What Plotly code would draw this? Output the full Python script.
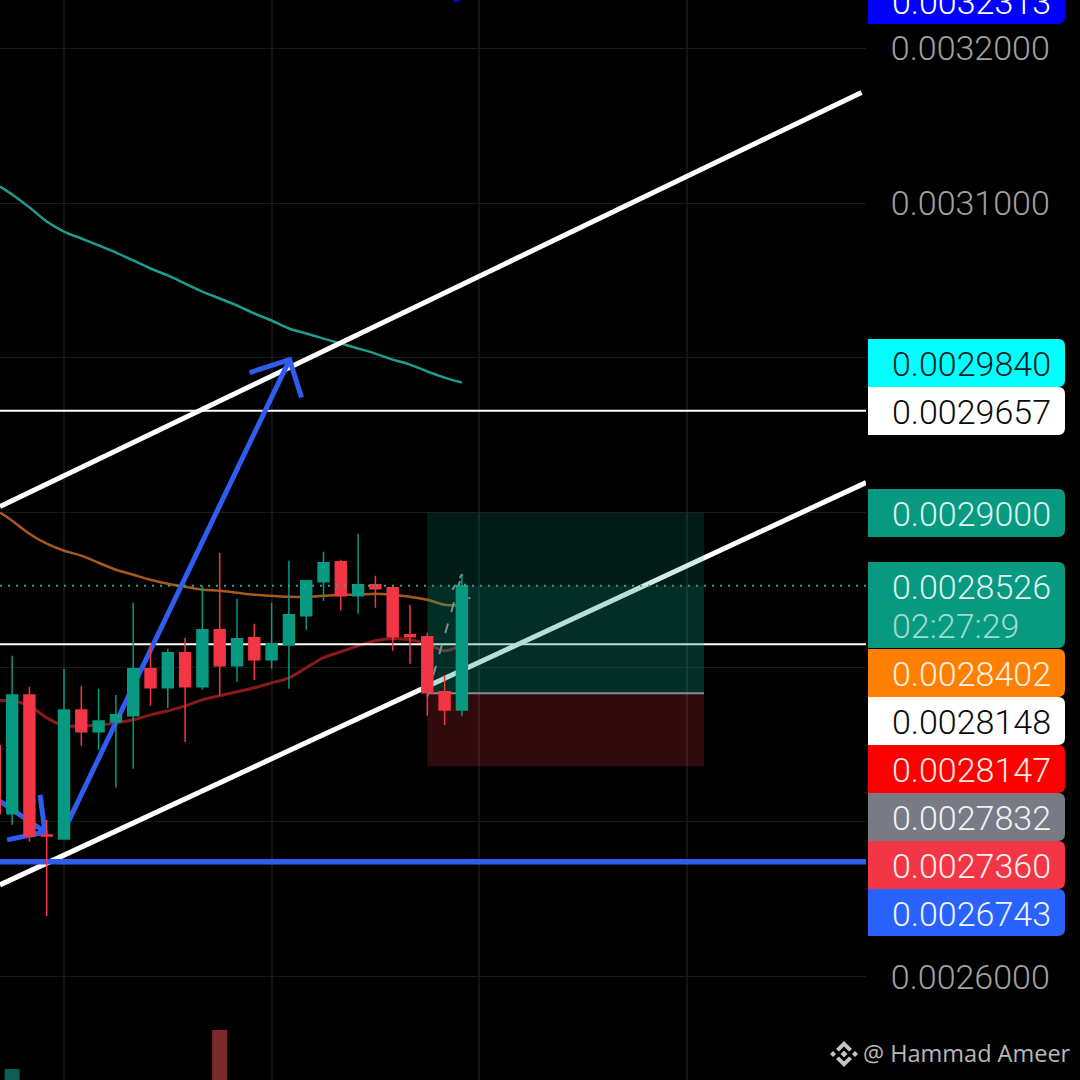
import plotly.graph_objects as go

# candle index 0 sits on the first visible vertical grid line
CANDLE_X = list(range(-4, 24))
OPEN = [0.0027492, 0.0027052, 0.0027821, 0.0026916, 0.0026890, 0.0027724, 0.0027582, 0.0027647,
        0.0027686, 0.0027990, 0.0027867, 0.0028093, 0.0027873, 0.0028242, 0.0028009, 0.0028190,
        0.0028048, 0.0028145, 0.0028332, 0.0028552, 0.0028682, 0.0028462, 0.0028533, 0.0028514,
        0.0028210, 0.0028197, 0.0027841, 0.0027724]
HIGH = [0.0027530, 0.0028074, 0.0027873, 0.0027013, 0.0027990, 0.0027880, 0.0027860, 0.0027821,
        0.0028417, 0.0028145, 0.0028119, 0.0028190, 0.0028526, 0.0028740, 0.0028442, 0.0028281,
        0.0028417, 0.0028688, 0.0028559, 0.0028746, 0.0028695, 0.0028863, 0.0028591, 0.0028533,
        0.0028404, 0.0028223, 0.0027951, 0.0028598]
LOW = [0.0027013, 0.0026981, 0.0026871, 0.0026392, 0.0026890, 0.0027492, 0.0027466, 0.0027220,
       0.0027343, 0.0027750, 0.0027737, 0.0027517, 0.0027854, 0.0027815, 0.0027906, 0.0027918,
       0.0027990, 0.0027860, 0.0028242, 0.0028429, 0.0028365, 0.0028345, 0.0028384, 0.0028106,
       0.0028022, 0.0027686, 0.0027627, 0.0027686]
CLOSE = [0.0027052, 0.0027821, 0.0026909, 0.0026909, 0.0027724, 0.0027582, 0.0027653, 0.0027692,
         0.0027990, 0.0027867, 0.0028093, 0.0027873, 0.0028242, 0.0028009, 0.0028184, 0.0028048,
         0.0028151, 0.0028339, 0.0028559, 0.0028675, 0.0028462, 0.0028533, 0.0028507, 0.0028197,
         0.0028197, 0.0027835, 0.0027724, 0.0028526]

# only two volume bars reach into the frame
VOLUME_X = [-3, 9]
VOLUME = [11, 50]
VOLUME_COLORS = ["#0f5c55", "#7a2a2c"]

EMA_X = [-3.70] + list(range(-3, 24))
EMA_TEAL = [0.0031107, 0.0031056, 0.0030972, 0.0030881, 0.0030816, 0.0030771, 0.0030726, 0.0030680,
            0.0030629, 0.0030577, 0.0030532, 0.0030480, 0.0030428, 0.0030383, 0.0030338, 0.0030286,
            0.0030241, 0.0030189, 0.0030157, 0.0030124, 0.0030092, 0.0030060, 0.0030027, 0.0029988,
            0.0029956, 0.0029911, 0.0029872, 0.0029840]
EMA_ORANGE = [0.0028999, 0.0028947, 0.0028863, 0.0028798, 0.0028753, 0.0028721, 0.0028675, 0.0028630,
              0.0028598, 0.0028565, 0.0028539, 0.0028520, 0.0028501, 0.0028494, 0.0028481, 0.0028468,
              0.0028462, 0.0028455, 0.0028455, 0.0028462, 0.0028468, 0.0028468, 0.0028475, 0.0028468,
              0.0028455, 0.0028436, 0.0028404, 0.0028402]
EMA_RED = [0.0027783, 0.0027783, 0.0027750, 0.0027673, 0.0027621, 0.0027621, 0.0027627, 0.0027640,
           0.0027660, 0.0027692, 0.0027718, 0.0027750, 0.0027789, 0.0027815, 0.0027841, 0.0027867,
           0.0027899, 0.0027931, 0.0027996, 0.0028061, 0.0028100, 0.0028138, 0.0028171, 0.0028184,
           0.0028177, 0.0028151, 0.0028106, 0.0028147]

X_LEFT, X_RIGHT = -3.70, 46.36
Y_LOW, Y_HIGH = 0.00253318, 0.00323125
TICK_VALUES = [0.0026, 0.0027, 0.0028, 0.0029, 0.0030, 0.0031, 0.0032]
# the middle labels are hidden behind the price tags in the original
TICK_LABELS = ["0.0026000", "", "", "", "", "0.0031000", "0.0032000"]
GRID_X = [0, 12, 24, 36]

# drawing tools
CHANNEL_UPPER_X = [-3.70, 46.1]
CHANNEL_UPPER_Y = [0.0029038, 0.0031715]
CHANNEL_LOWER_X = [-3.70, 46.36]
CHANNEL_LOWER_Y = [0.0026593, 0.0029193]
LEVEL_WHITE = [0.0029657, 0.0028148]
LEVEL_BLUE = 0.0026743
LAST_PRICE = 0.0028526
BIG_ARROW_X = [-0.115, 13.04]
BIG_ARROW_Y = [0.0026916, 0.0029988]
BIG_HEAD_X = [10.73, 13.04, 13.73]
BIG_HEAD_Y = [0.0029904, 0.0029988, 0.0029743]
SMALL_ARROW_X = [-3.81, -1.10]
SMALL_ARROW_Y = [0.0027142, 0.0026935]
SMALL_HEAD_X = [-1.385, -1.10, -3.29]
SMALL_HEAD_Y = [0.0027175, 0.0026935, 0.0026884]
DASH_ARROW_X = [21.0, 23.0]
DASH_ARROW_Y = [0.0027810, 0.0028600]
DASH_HEAD_X = [22.45, 23.0, 23.45]
DASH_HEAD_Y = [0.0028500, 0.0028600, 0.0028440]
TOP_MARK_X = [22.5, 22.9]
TOP_MARK_Y = [0.0032313, 0.0032313]

POS_X = [21, 37]
POS_TARGET = 0.0029
POS_ENTRY = 0.0027832
POS_STOP = 0.0027360

TAG_TEXTS = ["0.0032313", "0.0029840", "0.0029657", "0.0029000", "0.0028526", "0.0028402",
             "0.0028148", "0.0028147", "0.0027832", "0.0027360", "0.0026743"]
TAG_COLORS = ["#0000ff", "#00ffff", "#ffffff", "#089981", "#089981", "#ff8000",
              "#ffffff", "#ff0000", "#787b86", "#f23645", "#2962ff"]
TAG_INK = ["#ffffff", "#0c1f1f", "#0a0a0a", "#dff3ef", "#dff3ef", "#fff0e0",
           "#0a0a0a", "#ffe8e8", "#f2f2f2", "#fff0f0", "#f0f4ff"]
TAG_TOPS = [-24, 339, 387, 489, 562, 649, 697, 745, 793, 841, 889]
TAG_BOTTOMS = [24, 387, 435, 537, 648, 697, 745, 793, 841, 889, 936]
COUNTDOWN = "02:27:29"

PLOT_W = 866
FONT = "Roboto"


def px(x):
    return x / PLOT_W


def py(y):
    return 1 - y / 1080


def line_trace(x, y, color, width, dash="solid", xaxis="x", yaxis="y", shape="linear"):
    return go.Scatter(x=x, y=y, mode="lines", xaxis=xaxis, yaxis=yaxis, hoverinfo="skip", showlegend=False,
                      line=dict(color=color, width=width, dash=dash, shape=shape))


def box_trace(x0, x1, y0, y1, color):
    return go.Scatter(x=[x0, x1, x1, x0, x0], y=[y0, y0, y1, y1, y0], mode="none", fill="toself",
                      fillcolor=color, hoverinfo="skip", showlegend=False)


def tag_shape(top, bottom, color):
    x0, x1 = 868, 1065
    r = 7
    path = (f"M {px(x0)},{py(top)} L {px(x1 - r)},{py(top)} Q {px(x1)},{py(top)} {px(x1)},{py(top + r)} "
            f"L {px(x1)},{py(bottom - r)} Q {px(x1)},{py(bottom)} {px(x1 - r)},{py(bottom)} "
            f"L {px(x0)},{py(bottom)} Z")
    return dict(type="path", xref="paper", yref="paper", path=path, fillcolor=color, line=dict(width=0), layer="above")


def poly_shape(points, color="#c4c4c4"):
    path = "M " + " L ".join(f"{px(x)},{py(y)}" for x, y in points) + " Z"
    return dict(type="path", xref="paper", yref="paper", path=path, fillcolor=color, line=dict(width=0), layer="above")


traces = []

# Indicators and drawings sit under the position box and the candles
traces.append(line_trace(EMA_X, EMA_TEAL, "#1f9c90", 2.5, shape="spline"))
traces.append(line_trace(EMA_X, EMA_ORANGE, "#a85a1e", 2.5, shape="spline"))
traces.append(line_trace(EMA_X, EMA_RED, "#8a1a1a", 3, shape="spline"))
traces.append(line_trace(CHANNEL_UPPER_X, CHANNEL_UPPER_Y, "#ffffff", 5))
traces.append(line_trace(CHANNEL_LOWER_X, CHANNEL_LOWER_Y, "#ffffff", 5))
for level in LEVEL_WHITE:
    traces.append(line_trace([X_LEFT, X_RIGHT], [level, level], "#ffffff", 2))
traces.append(line_trace([X_LEFT, X_RIGHT], [LEVEL_BLUE, LEVEL_BLUE], "#2f5df0", 5.5))
traces.append(line_trace(BIG_ARROW_X, BIG_ARROW_Y, "#2f5df0", 5))
traces.append(line_trace(BIG_HEAD_X, BIG_HEAD_Y, "#2f5df0", 5))
traces.append(line_trace(SMALL_ARROW_X, SMALL_ARROW_Y, "#2f5df0", 5))
traces.append(line_trace(SMALL_HEAD_X, SMALL_HEAD_Y, "#2f5df0", 5))
traces.append(line_trace(TOP_MARK_X, TOP_MARK_Y, "#0000ff", 3))

# Long position box
traces.append(box_trace(POS_X[0], POS_X[1], POS_ENTRY, POS_TARGET, "rgba(8,153,129,0.19)"))
traces.append(box_trace(POS_X[0], POS_X[1], POS_ENTRY, LAST_PRICE, "rgba(8,153,129,0.14)"))
traces.append(box_trace(POS_X[0], POS_X[1], POS_STOP, POS_ENTRY, "rgba(242,54,69,0.2)"))
traces.append(line_trace(POS_X, [POS_ENTRY, POS_ENTRY], "#8a8a8e", 2))
traces.append(line_trace(DASH_ARROW_X, DASH_ARROW_Y, "#7f8f8c", 2, dash="10px,12px"))
traces.append(line_trace(DASH_HEAD_X, DASH_HEAD_Y, "#7f8f8c", 2, dash="6px,8px"))

traces.append(go.Bar(x=VOLUME_X, y=VOLUME, yaxis="y3", width=0.87, marker=dict(color=VOLUME_COLORS, line=dict(width=0)),
                     hoverinfo="skip", showlegend=False))

traces.append(go.Candlestick(
    x=CANDLE_X, open=OPEN, high=HIGH, low=LOW, close=CLOSE,
    xaxis="x2", yaxis="y2", whiskerwidth=0, showlegend=False,
    increasing=dict(line=dict(color="#089981", width=1.5), fillcolor="#089981"),
    decreasing=dict(line=dict(color="#f23645", width=1.5), fillcolor="#f23645"),
))
traces.append(line_trace([X_LEFT, X_RIGHT], [LAST_PRICE, LAST_PRICE], "#35a08f", 2, dash="2px,6px", xaxis="x2", yaxis="y2"))

shapes = [tag_shape(t, b, c) for t, b, c in zip(TAG_TOPS, TAG_BOTTOMS, TAG_COLORS)]

# Binance mark next to the watermark
cx, cy = 844, 1054
for dx, dy, s in [(0, 0, 3.5), (-11, 0, 3), (11, 0, 3)]:
    shapes.append(poly_shape([(cx + dx - s, cy + dy), (cx + dx, cy + dy - s), (cx + dx + s, cy + dy), (cx + dx, cy + dy + s)]))
shapes.append(poly_shape([(cx - 8, cy - 5), (cx, cy - 13), (cx + 8, cy - 5), (cx + 5, cy - 2.5), (cx, cy - 7.5), (cx - 5, cy - 2.5)]))
shapes.append(poly_shape([(cx - 8, cy + 5), (cx, cy + 13), (cx + 8, cy + 5), (cx + 5, cy + 2.5), (cx, cy + 7.5), (cx - 5, cy + 2.5)]))

annotations = []
for text, top, bottom, ink in zip(TAG_TEXTS, TAG_TOPS, TAG_BOTTOMS, TAG_INK):
    # the top tag is cut by the window, its text sits a little lower
    centre = 2 if top < 0 else top + 25
    annotations.append(dict(xref="paper", yref="paper", x=px(890), y=py(centre), xanchor="left", yanchor="middle",
                            text=text, showarrow=False, font=dict(family=FONT, size=34, color=ink, weight=300)))
annotations.append(dict(xref="paper", yref="paper", x=px(890), y=py(626), xanchor="left", yanchor="middle",
                        text=COUNTDOWN, showarrow=False, font=dict(family=FONT, size=34, color="#9fdccf", weight=300)))
annotations.append(dict(xref="paper", yref="paper", x=px(861), y=py(1053), xanchor="left", yanchor="middle",
                        text="@ Hammad Ameer", showarrow=False, font=dict(family="Open Sans", size=23.5, color="#b8b8b8")))

fig = go.Figure(data=traces)
fig.update_layout(
    width=1080,
    height=1080,
    margin=dict(l=0, r=214, t=0, b=0),
    paper_bgcolor="#000000",
    plot_bgcolor="#000000",
    boxgap=0.1,
    showlegend=False,
    shapes=shapes,
    annotations=annotations,
    xaxis=dict(range=[X_LEFT, X_RIGHT], tickvals=GRID_X, showticklabels=False, ticks="",
               showgrid=True, gridcolor="#141414", gridwidth=1.5, zeroline=False, rangeslider=dict(visible=False)),
    xaxis2=dict(range=[X_LEFT, X_RIGHT], overlaying="x", visible=False, rangeslider=dict(visible=False)),
    yaxis=dict(range=[Y_LOW, Y_HIGH], side="right", tickvals=TICK_VALUES, ticktext=TICK_LABELS,
               ticks="outside", ticklen=17, tickcolor="rgba(0,0,0,0)", showgrid=True, gridcolor="#1a1a1a", gridwidth=1,
               zeroline=False, showline=False, tickfont=dict(family=FONT, size=34, color="#a0a0a0", weight=300)),
    yaxis2=dict(range=[Y_LOW, Y_HIGH], overlaying="y", visible=False),
    yaxis3=dict(range=[0, 1080], overlaying="y", visible=False),
)

fig.write_html("out.html", config={"displayModeBar": False},
               post_script="document.body.style.margin='0';document.body.style.overflow='hidden';")
